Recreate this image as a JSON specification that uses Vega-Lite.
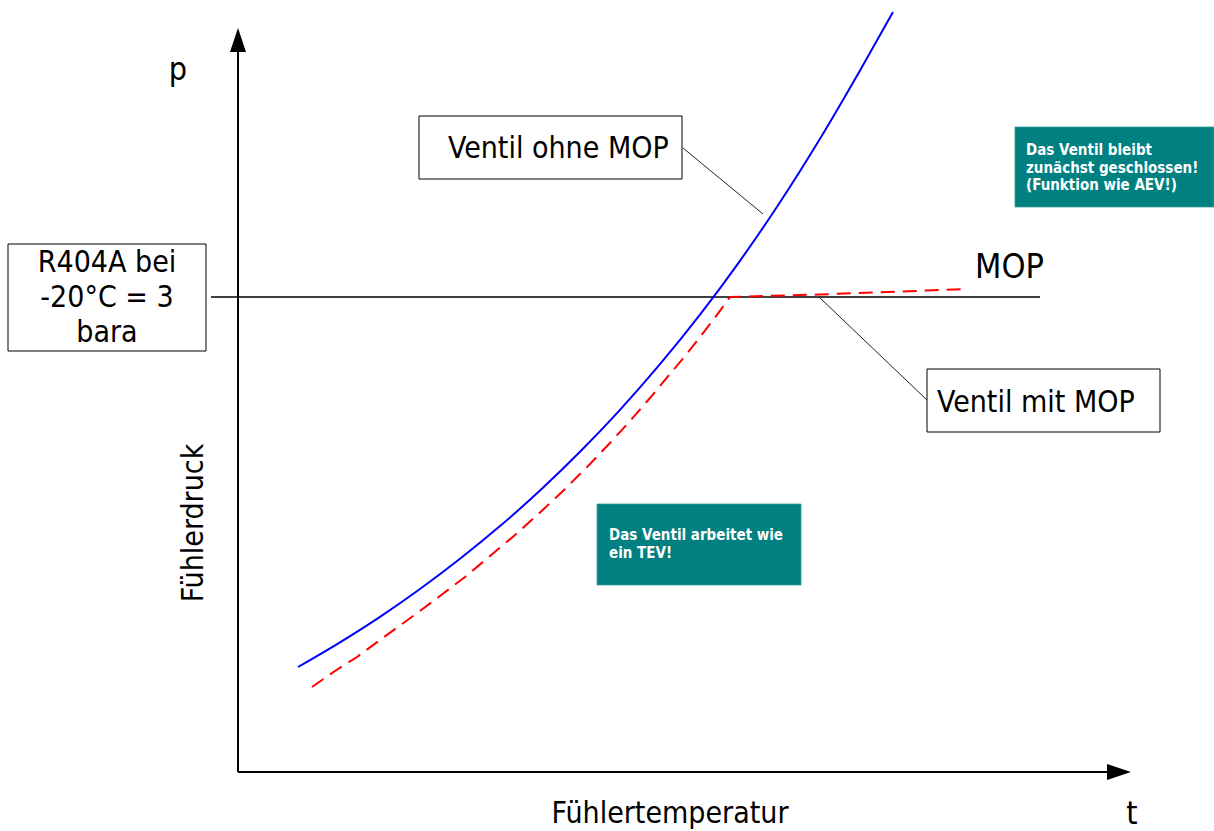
{
  "$schema": "https://vega.github.io/schema/vega-lite/v6.json",
  "width": 1214,
  "height": 831,
  "autosize": {"type": "none"},
  "padding": 0,
  "background": "white",
  "config": {"view": {"stroke": null}},
  "datasets": {
    "whiteBoxes": [
      {"x": 419, "x2": 682, "y": 116, "y2": 179},
      {"x": 8, "x2": 206, "y": 244, "y2": 351},
      {"x": 927, "x2": 1160, "y": 369, "y2": 432}
    ],
    "tealBoxes": [
      {"x": 1015, "x2": 1214, "y": 127, "y2": 207},
      {"x": 597, "x2": 801, "y": 504, "y2": 585}
    ],
    "axes": [
      {"x": 238, "y": 772, "x2": 238, "y2": 50},
      {"x": 238, "y": 772, "x2": 1109, "y2": 772}
    ],
    "mopLine": [
      {"x": 211, "y": 297, "x2": 1040, "y2": 297}
    ],
    "leaders": [
      {"x": 683, "y": 148, "x2": 763, "y2": 214},
      {"x": 819, "y": 297, "x2": 927, "y2": 400}
    ],
    "blue": [
      {"x": 298, "y": 667}, {"x": 340, "y": 642.3}, {"x": 380, "y": 616.8},
      {"x": 420, "y": 589}, {"x": 460, "y": 558.8}, {"x": 500, "y": 526.1},
      {"x": 540, "y": 490.5}, {"x": 580, "y": 451.8}, {"x": 620, "y": 409.8},
      {"x": 660, "y": 364.2}, {"x": 700, "y": 314.6}, {"x": 740, "y": 260.8},
      {"x": 780, "y": 202.3}, {"x": 820, "y": 138.8}, {"x": 860, "y": 70.5},
      {"x": 893, "y": 12}
    ],
    "red": [
      {"x": 312, "y": 687}, {"x": 335, "y": 671}, {"x": 357, "y": 657},
      {"x": 380, "y": 640}, {"x": 400, "y": 625.5}, {"x": 420, "y": 611},
      {"x": 440, "y": 596}, {"x": 465, "y": 577}, {"x": 490, "y": 556},
      {"x": 515, "y": 535}, {"x": 540, "y": 512.5}, {"x": 565, "y": 489},
      {"x": 590, "y": 464}, {"x": 610, "y": 443}, {"x": 630, "y": 421},
      {"x": 650, "y": 398}, {"x": 670, "y": 374}, {"x": 685, "y": 356},
      {"x": 700, "y": 337}, {"x": 715, "y": 317.5}, {"x": 730, "y": 297},
      {"x": 820, "y": 294.5}, {"x": 967, "y": 289}
    ],
    "arrowUp": [{"x": 238, "y": 40}],
    "arrowRight": [{"x": 1119, "y": 772}],
    "labelsLeft": [
      {"x": 448, "y": 158, "text": "Ventil ohne MOP"},
      {"x": 937, "y": 412, "text": "Ventil mit MOP"}
    ],
    "labelCenter": [
      {"x": 670, "y": 823, "text": "Fühlertemperatur"}
    ],
    "r404a": [
      {"x": 107, "y": 248, "text": ["R404A bei", "-20°C = 3", "bara"]}
    ],
    "bigLetters": [
      {"x": 178, "y": 80, "text": "p"},
      {"x": 1132, "y": 824, "text": "t"}
    ],
    "mopLabel": [
      {"x": 975, "y": 278, "text": "MOP"}
    ],
    "yTitle": [
      {"x": 203, "y": 523, "text": "Fühlerdruck"}
    ],
    "tealText": [
      {"x": 1026, "y": 143, "text": ["Das Ventil bleibt", "zunächst geschlossen!", "(Funktion wie AEV!)"]},
      {"x": 609, "y": 528, "text": ["Das Ventil arbeitet wie", "ein TEV!"]}
    ]
  },
  "layer": [
    {
      "data": {"name": "whiteBoxes"},
      "mark": {"type": "rect", "fill": "white", "stroke": "black", "strokeWidth": 1},
      "encoding": {
        "x": {"field": "x", "type": "quantitative", "scale": {"domain": [0, 1214], "nice": false}, "axis": null},
        "x2": {"field": "x2"},
        "y": {"field": "y", "type": "quantitative", "scale": {"domain": [0, 831], "nice": false, "reverse": true}, "axis": null},
        "y2": {"field": "y2"}
      }
    },
    {
      "data": {"name": "tealBoxes"},
      "mark": {"type": "rect", "fill": "#008080", "stroke": "#3a9a9a", "strokeWidth": 0.8},
      "encoding": {
        "x": {"field": "x", "type": "quantitative", "axis": null},
        "x2": {"field": "x2"},
        "y": {"field": "y", "type": "quantitative", "axis": null},
        "y2": {"field": "y2"}
      }
    },
    {
      "data": {"name": "axes"},
      "mark": {"type": "rule", "stroke": "black", "strokeWidth": 2},
      "encoding": {
        "x": {"field": "x", "type": "quantitative", "axis": null},
        "x2": {"field": "x2"},
        "y": {"field": "y", "type": "quantitative", "axis": null},
        "y2": {"field": "y2"}
      }
    },
    {
      "data": {"name": "mopLine"},
      "mark": {"type": "rule", "stroke": "black", "strokeWidth": 1.3},
      "encoding": {
        "x": {"field": "x", "type": "quantitative", "axis": null},
        "x2": {"field": "x2"},
        "y": {"field": "y", "type": "quantitative", "axis": null},
        "y2": {"field": "y2"}
      }
    },
    {
      "data": {"name": "leaders"},
      "mark": {"type": "rule", "stroke": "#222222", "strokeWidth": 1},
      "encoding": {
        "x": {"field": "x", "type": "quantitative", "axis": null},
        "x2": {"field": "x2"},
        "y": {"field": "y", "type": "quantitative", "axis": null},
        "y2": {"field": "y2"}
      }
    },
    {
      "data": {"name": "blue"},
      "mark": {"type": "line", "stroke": "#0000ff", "strokeWidth": 2, "interpolate": "monotone"},
      "encoding": {
        "x": {"field": "x", "type": "quantitative", "axis": null},
        "y": {"field": "y", "type": "quantitative", "axis": null},
        "order": {"field": "x"}
      }
    },
    {
      "data": {"name": "red"},
      "mark": {"type": "line", "stroke": "#ff0000", "strokeWidth": 2, "strokeDash": [14, 8]},
      "encoding": {
        "x": {"field": "x", "type": "quantitative", "axis": null},
        "y": {"field": "y", "type": "quantitative", "axis": null},
        "order": {"field": "x"}
      }
    },
    {
      "data": {"name": "arrowUp"},
      "mark": {"type": "point", "shape": "M0,-1L0.667,1L-0.667,1Z", "size": 576, "filled": true, "fill": "black", "opacity": 1, "strokeWidth": 0},
      "encoding": {
        "x": {"field": "x", "type": "quantitative", "axis": null},
        "y": {"field": "y", "type": "quantitative", "axis": null}
      }
    },
    {
      "data": {"name": "arrowRight"},
      "mark": {"type": "point", "shape": "M1,0L-1,0.667L-1,-0.667Z", "size": 576, "filled": true, "fill": "black", "opacity": 1, "strokeWidth": 0},
      "encoding": {
        "x": {"field": "x", "type": "quantitative", "axis": null},
        "y": {"field": "y", "type": "quantitative", "axis": null}
      }
    },
    {
      "data": {"name": "labelsLeft"},
      "mark": {"type": "text", "align": "left", "baseline": "alphabetic", "font": "DejaVu Sans Condensed, DejaVu Sans", "fontSize": 30, "color": "black"},
      "encoding": {
        "x": {"field": "x", "type": "quantitative", "axis": null},
        "y": {"field": "y", "type": "quantitative", "axis": null},
        "text": {"field": "text"}
      }
    },
    {
      "data": {"name": "labelCenter"},
      "mark": {"type": "text", "align": "center", "baseline": "alphabetic", "font": "DejaVu Sans Condensed, DejaVu Sans", "fontSize": 30, "color": "black"},
      "encoding": {
        "x": {"field": "x", "type": "quantitative", "axis": null},
        "y": {"field": "y", "type": "quantitative", "axis": null},
        "text": {"field": "text"}
      }
    },
    {
      "data": {"name": "r404a"},
      "mark": {"type": "text", "align": "center", "baseline": "top", "lineHeight": 35, "font": "DejaVu Sans Condensed, DejaVu Sans", "fontSize": 30, "color": "black"},
      "encoding": {
        "x": {"field": "x", "type": "quantitative", "axis": null},
        "y": {"field": "y", "type": "quantitative", "axis": null},
        "text": {"field": "text"}
      }
    },
    {
      "data": {"name": "bigLetters"},
      "mark": {"type": "text", "align": "center", "baseline": "alphabetic", "font": "DejaVu Sans Condensed, DejaVu Sans", "fontSize": 32, "color": "black"},
      "encoding": {
        "x": {"field": "x", "type": "quantitative", "axis": null},
        "y": {"field": "y", "type": "quantitative", "axis": null},
        "text": {"field": "text"}
      }
    },
    {
      "data": {"name": "mopLabel"},
      "mark": {"type": "text", "align": "left", "baseline": "alphabetic", "font": "DejaVu Sans Condensed, DejaVu Sans", "fontSize": 34, "color": "black"},
      "encoding": {
        "x": {"field": "x", "type": "quantitative", "axis": null},
        "y": {"field": "y", "type": "quantitative", "axis": null},
        "text": {"field": "text"}
      }
    },
    {
      "data": {"name": "yTitle"},
      "mark": {"type": "text", "align": "center", "baseline": "alphabetic", "angle": 270, "font": "DejaVu Sans Condensed, DejaVu Sans", "fontSize": 30, "color": "black"},
      "encoding": {
        "x": {"field": "x", "type": "quantitative", "axis": null},
        "y": {"field": "y", "type": "quantitative", "axis": null},
        "text": {"field": "text"}
      }
    },
    {
      "data": {"name": "tealText"},
      "mark": {"type": "text", "align": "left", "baseline": "top", "lineHeight": 17.5, "font": "DejaVu Sans Condensed, DejaVu Sans", "fontSize": 15, "fontWeight": "bold", "color": "white"},
      "encoding": {
        "x": {"field": "x", "type": "quantitative", "axis": null},
        "y": {"field": "y", "type": "quantitative", "axis": null},
        "text": {"field": "text"}
      }
    }
  ]
}
